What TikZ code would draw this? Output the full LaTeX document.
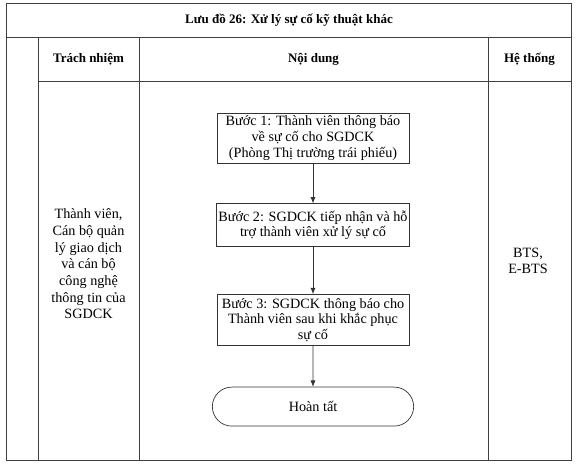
\documentclass[tikz,border=0pt]{standalone}
\usepackage{fontspec}
\setmainfont{Liberation Serif}
\usetikzlibrary{arrows.meta, positioning, shapes.misc}

\begin{document}
\begin{tikzpicture}[x=1pt, y=-1pt,
    every node/.style={font=\fontsize{14.2}{15.6}\selectfont, align=center},
    head/.style={font=\fontsize{13}{15.5}\selectfont\bfseries},
    stepbox/.style={draw=black!80, line width=0.7pt, minimum width=192pt, inner sep=2pt},
    endbox/.style={draw=black!80, line width=0.7pt, rounded rectangle, minimum width=208pt, minimum height=39pt},
    grid/.style={draw=black!75, line width=0.8pt},
    flow/.style={draw=black!80, line width=0.7pt, -{Latex[length=2.2mm, width=1.8mm]}}
]
\useasboundingbox (0,0) rectangle (576,470);

% table frame
\draw[grid] (6,3) rectangle (571,460);
\draw[grid] (6,37) -- (571,37);
\draw[grid] (38,37) -- (38,460);
\draw[grid] (139,37) -- (139,460);
\draw[grid] (488,37) -- (488,460);
\draw[grid] (38,81) -- (571,81);

% headings
\node[head] (title) at (289,20) {Lưu đồ 26: Xử lý sự cố kỹ thuật khác};
\node[head] (hresp) at (88.5,59) {Trách nhiệm};
\node[head] (hcont) at (313.5,59) {Nội dung};
\node[head] (hsys) at (529.5,59) {Hệ thống};

% columns
\node[font=\fontsize{14.2}{16.7}\selectfont] (resp) at (88.5,264) {Thành viên,\\Cán bộ quản\\lý giao dịch\\và cán bộ\\công nghệ\\thông tin của\\SGDCK};
\node (sys) at (528,261) {BTS,\\E-BTS};

% flow
\node[stepbox, minimum height=50pt] (step1) at (313,138) {Bước 1: Thành viên thông báo\\về sự cố cho SGDCK\\(Phòng Thị trường trái phiếu)};
\node[stepbox, minimum height=43pt, below=40pt of step1] (step2) {Bước 2: SGDCK tiếp nhận và hỗ\\trợ thành viên xử lý sự cố};
\node[stepbox, minimum height=51pt, below=47pt of step2] (step3) {Bước 3: SGDCK thông báo cho\\Thành viên sau khi khắc phục\\sự cố};
\node[endbox, below=41pt of step3] (done) {Hoàn tất};

\draw[flow] (step1) -- (step2);
\draw[flow] (step2) -- (step3);
\draw[flow] (step3) -- (done);

\end{tikzpicture}
\end{document}
